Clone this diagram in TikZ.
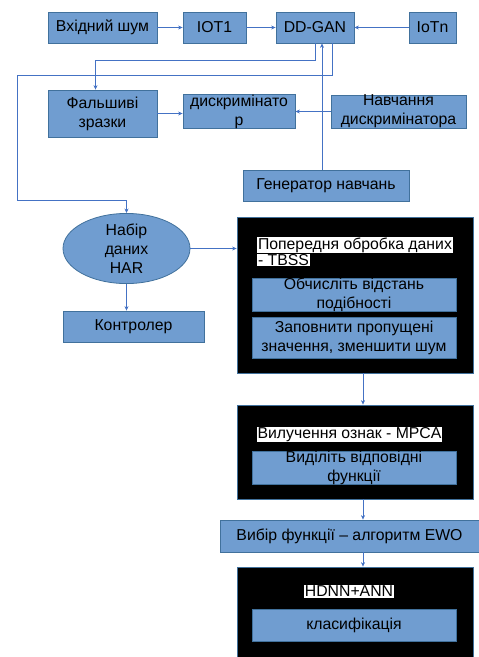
\documentclass[tikz,border=0pt]{standalone}
\usepackage{fontspec}
\setmainfont{Liberation Sans}
\usetikzlibrary{arrows.meta,shapes.geometric,positioning}
\definecolor{boxfill}{RGB}{112,157,208}
\definecolor{boxline}{RGB}{65,113,156}
\definecolor{linkblue}{RGB}{68,114,196}
\tikzset{
  block/.style={draw=boxline,fill=boxfill,line width=0.8pt,inner sep=0pt,align=center,font=\fontsize{15.8}{19}\selectfont},
  stage/.style={draw=boxline,fill=black,line width=0.8pt,inner sep=0pt},
  tag/.style={fill=white,inner sep=0.8pt,font=\fontsize{15.8}{19}\selectfont},
  link/.style={draw=linkblue,line width=0.6pt,-{Stealth[length=4.5pt,width=4pt]}}
}
\begin{document}
\begin{tikzpicture}[x=1pt,y=-1pt]
  \clip (0,0) rectangle (479,657);
  \node[block,minimum width=109,minimum height=31] (noise) at (102.5,27.5) {Вхідний шум};
  \node[block,minimum width=63,minimum height=31] (iot1) at (214.5,27.5) {IOT1};
  \node[block,minimum width=78,minimum height=31] (ddgan) at (315,27.5) {DD-GAN};
  \node[block,minimum width=47,minimum height=31] (iotn) at (432.5,27.5) {IoTn};
  \node[block,minimum width=109,minimum height=47] (fake) at (102.5,113.5) {Фальшиві\\зразки};
  \node[block,minimum width=112,minimum height=31] (disc) at (239,111.5) {дискримінато\\р};
  \node[block,minimum width=135,minimum height=31] (dtrain) at (398.5,111.5) {Навчання\\дискримінатора};
  \node[block,minimum width=166,minimum height=31] (gtrain) at (326,185.5) {Генератор навчань};
  \node[block,ellipse,minimum width=127,minimum height=61] (har) at (126.5,248.5) {Набір\\даних\\HAR};
  \node[block,minimum width=141,minimum height=31] (ctrl) at (133.5,326.5) {Контролер};

  \node[stage,minimum width=236,minimum height=156] (prep) at (355,295) {};
  \node[tag,anchor=north west] (prept) at (257,236.5) {Попередня обробка даних};
  \node[tag,anchor=north west] (prepu) at (prept.south west) {- TBSS};
  \node[block,minimum width=204,minimum height=30] (dist) at (354,295) {Обчисліть відстань\\подібності};
  \node[block,minimum width=204,minimum height=41] (fill) at (354,337.5) {Заповнити пропущені\\значення, зменшити шум};

  \node[stage,minimum width=236,minimum height=94] (feat) at (355,452) {};
  \node[tag] (featt) at (349.5,434.5) {Вилучення ознак - MPCA};
  \node[block,minimum width=204,minimum height=32] (rel) at (354,468) {Виділіть відповідні\\функції};

  \node[block,minimum width=259,minimum height=32] (sel) at (349.5,536) {Вибір функції – алгоритм EWO};

  \node[stage,minimum width=236,minimum height=103] (cls) at (355,618.5) {};
  \node[tag] (clst) at (349,591.5) {HDNN+ANN};
  \node[block,minimum width=204,minimum height=32] (clsb) at (354,625) {класифікація};

  \draw[link] (noise) -- (iot1);
  \draw[link] (iot1) -- (ddgan);
  \draw[link] (iotn) -- (ddgan);
  \draw[link] (ddgan.south) -- ++(0,17) -| ([xshift=-7pt]fake.north);
  \coordinate (bend) at (17,75);
  \draw[link] ([xshift=17pt]ddgan.south) |- (bend) |- (126.5,200) -- (har.north);
  \draw[link] ([xshift=-4pt]gtrain.north) -- ([xshift=-4pt]gtrain.north |- ddgan.south);
  \draw[link] (fake.east) -- (fake.east -| disc.west);
  \draw[link] (dtrain.west) -- (disc.east);
  \draw[link] (har.east) -- (har.east -| prep.west);
  \draw[link] (har.south) -- (har.south |- ctrl.north);
  \draw[link] ([xshift=8pt]prep.south) -- ([xshift=8pt]feat.north);
  \draw[link] ([xshift=8pt]feat.south) -- ([xshift=8pt]feat.south |- sel.north);
  \draw[link] ([xshift=8pt]feat.south |- sel.south) -- ([xshift=8pt]cls.north);
\end{tikzpicture}
\end{document}
